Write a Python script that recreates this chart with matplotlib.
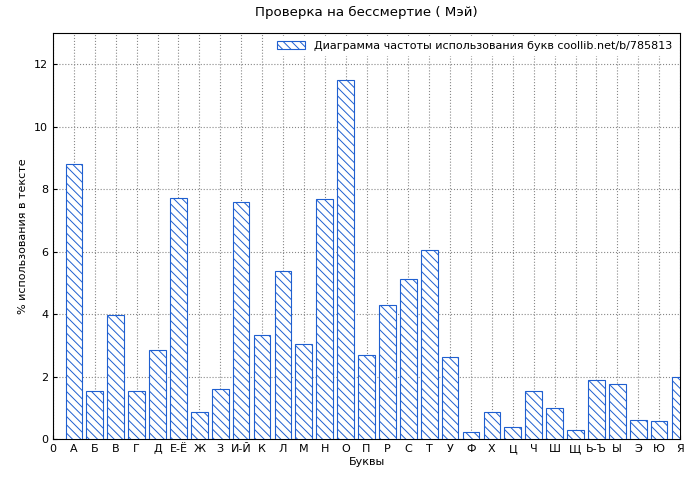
import matplotlib
matplotlib.use("Agg")
import matplotlib.pyplot as plt

letters = ["А", "Б", "В", "Г", "Д", "Е-Ё", "Ж", "З", "И-Й", "К", "Л", "М", "Н", "О", "П",
           "Р", "С", "Т", "У", "Ф", "Х", "Ц", "Ч", "Ш", "Щ", "Ь-Ъ", "Ы", "Э", "Ю", "Я"]
values = [8.80, 1.54, 3.97, 1.54, 2.85, 7.71, 0.86, 1.60, 7.58, 3.33, 5.38, 3.04, 7.68, 11.49, 2.69,
          4.29, 5.12, 6.05, 2.62, 0.22, 0.86, 0.38, 1.54, 0.99, 0.29, 1.89, 1.76, 0.61, 0.58, 1.98]

plt.rcParams["font.size"] = 8
plt.rcParams["hatch.color"] = "#1f5fd0"
plt.rcParams["hatch.linewidth"] = 0.7

fig = plt.figure(figsize=(7, 4.8), dpi=100)
ax = fig.add_axes([53 / 700, 41 / 480, 627 / 700, 406 / 480])

xs = list(range(1, len(letters) + 1))
ax.bar(xs, values, width=0.8, facecolor="white", edgecolor="#1f5fd0", hatch="\\\\\\\\",
       linewidth=0.8, label="Диаграмма частоты использования букв coollib.net/b/785813", zorder=3)

ax.set_xlim(0, 30)
ax.set_ylim(0, 13)
ax.set_xticks(range(0, 31))
ax.set_xticklabels(["0"] + letters)
ax.set_yticks(range(0, 13, 2))
ax.grid(True, linestyle=":", color="#888888", linewidth=0.8, zorder=0)
ax.tick_params(direction="in", length=3)

ax.set_xlabel("Буквы", labelpad=2)
ax.set_ylabel("% использования в тексте")
ax.set_title("Проверка на бессмертие ( Мэй)", pad=12)
leg = ax.legend(loc="upper right", frameon=True, fancybox=False, borderaxespad=0.3,
                handlelength=2.5, edgecolor="white", framealpha=1)

fig.savefig("out.png", dpi=100)
